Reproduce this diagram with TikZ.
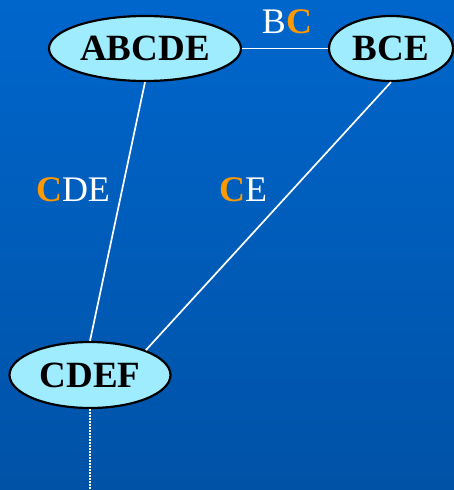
\documentclass[tikz,border=0pt]{standalone}
\usepackage{fontspec}
\setmainfont{Liberation Serif}
\usetikzlibrary{shapes.geometric}
\definecolor{bgtop}{RGB}{0,102,204}
\definecolor{bgbot}{RGB}{0,82,166}
\definecolor{nodefill}{RGB}{160,236,255}
\definecolor{hl}{RGB}{255,153,0}
\newcommand{\hlc}{\textcolor{hl}{\bfseries C}}
\tikzset{
  clique/.style={ellipse, draw=black, line width=2.2pt, fill=nodefill, inner sep=0pt,
    font=\fontsize{37}{37}\selectfont\bfseries, text=black},
  link/.style={draw=white, line width=1.7pt},
  sep/.style={text=white, font=\fontsize{36}{36}\selectfont, inner sep=0pt},
  trail/.style={draw=white, line width=1.5pt, dash pattern=on 1.5pt off 1.5pt}
}
\begin{document}
\begin{tikzpicture}[x=1pt,y=-1pt]
  \shade[top color=bgtop, bottom color=bgbot] (0,0) rectangle (454,490);
  \useasboundingbox (0,0) rectangle (454,490);

  \node[clique, minimum width=192pt, minimum height=65pt] (abcde) at (145,48.5) {ABCDE};
  \node[clique, minimum width=124pt, minimum height=65pt] (bce) at (391,48.5) {BCE};
  \node[clique, minimum width=161pt, minimum height=66pt] (cdef) at (90,375) {CDEF};
  \coordinate (tail) at (90,492);

  \draw[link] (abcde.east) -- (bce.west);
  \draw[link] (abcde.south) -- (cdef.north);
  \draw[link] (bce.south) -- (cdef.24);
  \draw[trail] (cdef.south) -- (tail);

  \node[sep] (lbc) at (287,22) {B\hlc};
  \node[sep] (lcde) at (73,190) {\hlc DE};
  \node[sep] (lce) at (243,190) {\hlc E};
\end{tikzpicture}
\end{document}
